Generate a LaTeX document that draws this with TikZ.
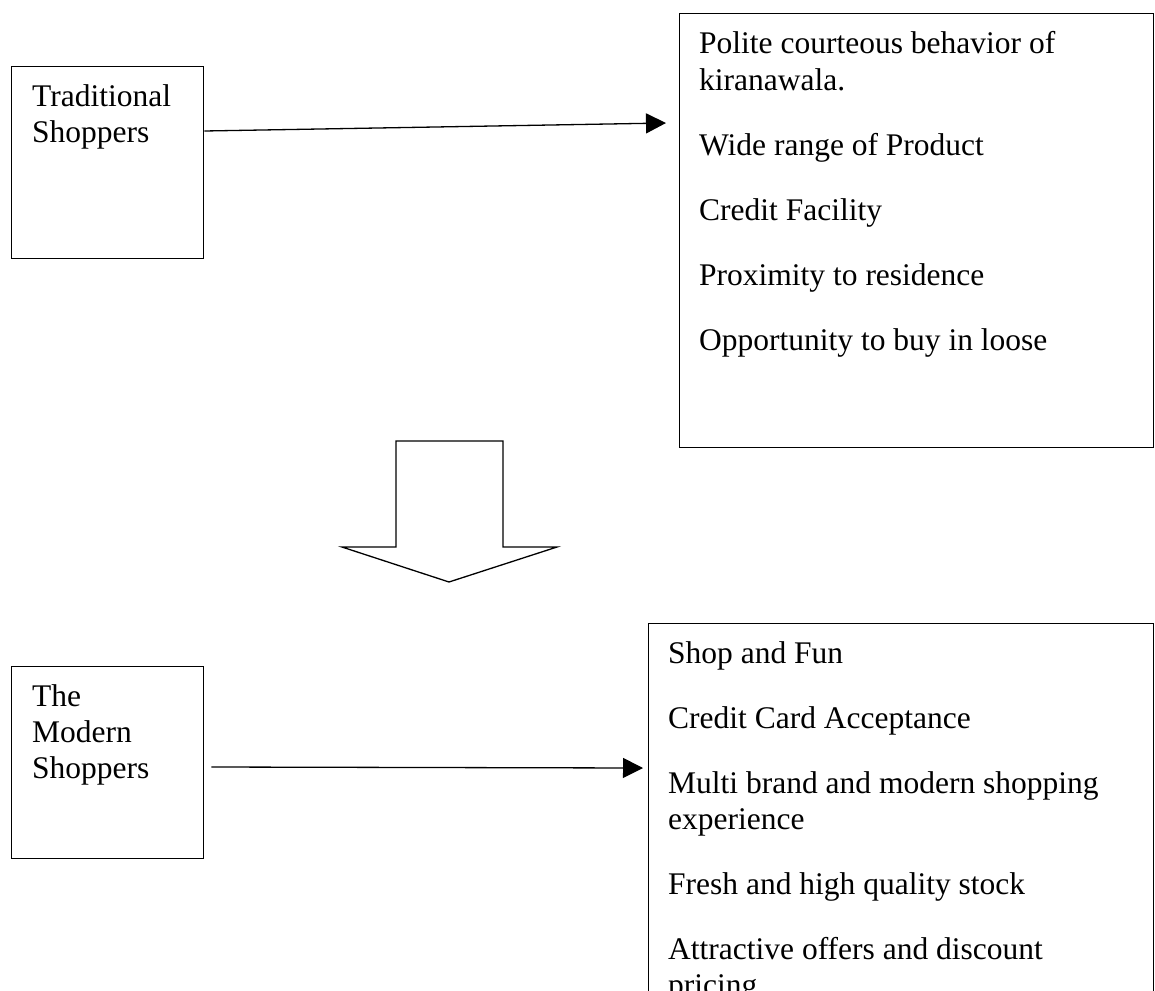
\documentclass[tikz,border=0pt]{standalone}
\usepackage{fontspec}
\setmainfont{Liberation Serif}
\usetikzlibrary{arrows.meta,positioning}

\tikzset{
  box/.style={draw, line width=1.4pt, inner sep=0pt, anchor=north west},
  lbl/.style={anchor=base west, align=left, inner sep=0pt,
    font=\fontsize{31.5}{36}\selectfont},
  conn/.style={line width=1.3pt, -{Triangle[length=20pt, width=20pt]}},
}

\begin{document}
\begin{tikzpicture}[x=1pt, y=-1pt]
  \useasboundingbox (0,0) rectangle (1155,990);

  % shopper boxes (base of a multi-line label = its last line)
  \node[box, minimum width=192pt, minimum height=192pt] (trad) at (11,66) {};
  \node[box, minimum width=192pt, minimum height=192pt] (mod) at (11,666) {};
  \node[lbl] (tradname) at (32,142) {Traditional\\Shoppers};
  \node[lbl] (modname) at (32,778) {The\\Modern\\Shoppers};

  % reason boxes
  \node[box, minimum width=474pt, minimum height=434pt] (tradwhy) at (679,13) {};
  \node[box, minimum width=505pt, minimum height=400pt] (modwhy) at (648,623) {};

  \node[lbl] (tw-1) at (699,90) {Polite courteous behavior of\\kiranawala.};
  \foreach \yy/\txt [count=\i from 2] in {155/Wide range of Product,
      220/Credit Facility, 285/Proximity to residence,
      350/Opportunity to buy in loose}
    \node[lbl] (tw-\i) at (699,\yy) {\txt};

  \node[lbl] (mw-1) at (668,663) {Shop and Fun};
  \node[lbl] (mw-2) at (668,728) {Credit Card Acceptance};
  \node[lbl] (mw-3) at (668,829) {Multi brand and modern shopping\\experience};
  \node[lbl] (mw-4) at (668,894) {Fresh and high quality stock};
  \node[lbl] (mw-5) at (668,995) {Attractive offers and discount\\pricing};

  % connectors
  \coordinate (tradout) at ([yshift=-65pt]trad.north east);
  \coordinate (tradtip) at ([xshift=-13pt, yshift=-110pt]tradwhy.north west);
  \coordinate (modout) at ([xshift=7pt, yshift=-101pt]mod.north east);
  \coordinate (modtip) at ([xshift=-5pt, yshift=-145pt]modwhy.north west);
  \draw[conn] (tradout) -- (tradtip);
  \draw[conn] (modout) -- (modtip);

  % block arrow down
  \draw[line width=1.3pt, line join=miter]
    (396,441) -- (503,441) -- (503,547) -- (557,547) -- (449,582)
    -- (342,547) -- (396,547) -- cycle;
\end{tikzpicture}
\end{document}
